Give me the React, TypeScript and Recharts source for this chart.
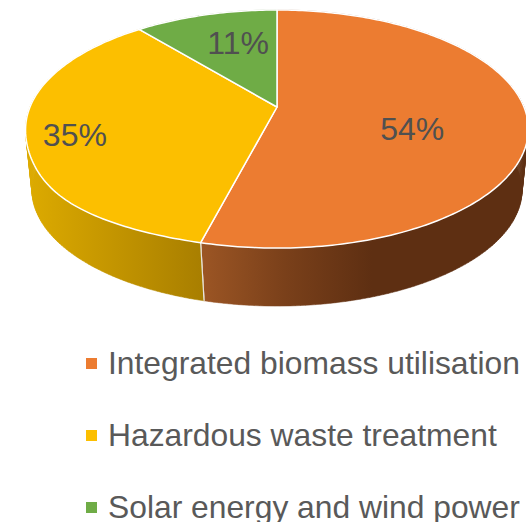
import React from 'react';
import { PieChart, Pie, Legend } from 'recharts';

const categories = ['Integrated biomass utilisation', 'Hazardous waste treatment', 'Solar energy and wind power'];
const shares = [54, 35, 11];
const colors = ['#EC7C31', '#FCBF00', '#6FAC46'];
const wallFills = ['url(#wallOrange)', 'url(#wallYellow)', '#4f7a32'];

// where each % label sits: fraction of radius, and degrees clockwise off the slice middle
const labelRadius = [0.56, 0.817, 0.645];
const labelShift = [12, -4, 4];

const chartData = categories.map((name, i) => ({ name, value: shares[i], fill: colors[i] }));

const FONT = '"Liberation Sans", Arial, sans-serif';
const CX = 277;
const CY = 107;
const RADIUS = 247;

// perspective of the tilted disc
const TILT = 115 / 247;
const K = 0.185;
const DROP = 61.5;
const BOTTOM_SCALE = 0.975;
const LEFT_BULGE = 0.055; // the reference's rim is a bit fatter at lower left

type Pt = { x: number; y: number };

const project = (angle: number, cx: number, cy: number, r: number, frac = 1, bulge = false): Pt => {
  // recharts angle: degrees counter-clockwise from 3 o'clock
  const rad = (angle * Math.PI) / 180;
  const X = Math.cos(rad) * frac;
  const Y = Math.sin(rad) * frac;
  const w = 1 + K * Y;
  const fat = bulge && X < 0 && Y < 0 ? 1 + LEFT_BULGE * 6.75 * X * X * Y * Y * Y * Y : 1;
  return { x: cx + (fat * r * X) / w, y: cy - (r * TILT * Y) / w };
};

const arcPoints = (start: number, end: number, cx: number, cy: number, r: number, bulge = false) => {
  const steps = Math.max(2, Math.ceil(Math.abs(end - start)));
  const pts: Pt[] = [];
  for (let i = 0; i <= steps; i++) pts.push(project(start + ((end - start) * i) / steps, cx, cy, r, 1, bulge));
  return pts;
};

const lower = (p: Pt, cx: number, cy: number): Pt => ({
  x: cx + BOTTOM_SCALE * (p.x - cx),
  y: cy + DROP + BOTTOM_SCALE * (p.y - cy),
});

const toPath = (pts: Pt[]) => pts.map((p, i) => `${i ? 'L' : 'M'}${p.x.toFixed(2)} ${p.y.toFixed(2)}`).join(' ');

const TopSlice = (props: any) => {
  const { cx, cy, outerRadius, startAngle, endAngle, fill } = props;
  const pts = arcPoints(startAngle, endAngle, cx, cy, outerRadius, true);
  return <path d={`M${cx} ${cy} ${toPath(pts).replace('M', 'L')} Z`} fill={fill} stroke="#fff" strokeWidth={1.5} strokeLinejoin="round" />;
};

const WallSlice = (props: any) => {
  const { cx, cy, outerRadius, startAngle, endAngle, index } = props;
  const pts = arcPoints(startAngle, endAngle, cx, cy, outerRadius);
  const rim = arcPoints(startAngle, endAngle, cx, cy, outerRadius, true);
  // one small quad per step, so the straight side edges of the drum get filled as well
  const quads = pts
    .slice(1)
    .map((p, i) => `${toPath([rim[i], rim[i + 1], lower(p, cx, cy), lower(pts[i], cx, cy)])} Z`)
    .join(' ');
  const first = rim[0];
  const last = rim[rim.length - 1];
  return (
    <g>
      <path d={quads} fill={wallFills[index]} stroke={wallFills[index]} strokeWidth={0.5} />
      <path d={toPath([first, lower(pts[0], cx, cy)])} stroke="#e8e4df" strokeWidth={1.2} fill="none" />
      <path d={toPath([last, lower(pts[pts.length - 1], cx, cy)])} stroke="#e8e4df" strokeWidth={1.2} fill="none" />
    </g>
  );
};

const renderLabel = (props: any) => {
  const { cx, cy, midAngle, outerRadius, index } = props;
  const p = project(midAngle - labelShift[index], cx, cy, outerRadius, labelRadius[index]);
  return (
    <text key={index} x={p.x} y={p.y} textAnchor="middle" dominantBaseline="central" fontFamily={FONT} fontSize={32} fill="#505050">
      {shares[index]}%
    </text>
  );
};

const renderLegend = ({ payload }: any) => (
  <div>
    {(payload || [])
      .filter((entry: any) => entry.type !== 'none')
      .map((entry: any) => (
        <div key={entry.value} style={{ position: 'relative', height: 72, lineHeight: '54px', paddingLeft: 108, whiteSpace: 'nowrap' }}>
          <span style={{ position: 'absolute', left: 86, top: 22, width: 11, height: 11, background: entry.color }} />
          {entry.value}
        </div>
      ))}
  </div>
);

export default function App() {
  return (
    <div style={{ position: 'absolute', left: 0, top: 0, width: 526, height: 522, overflow: 'hidden' }}>
      <PieChart width={526} height={522} margin={{ top: 0, right: 0, bottom: 0, left: 0 }}>
        <defs>
          <linearGradient id="wallOrange" gradientUnits="userSpaceOnUse" x1={204} y1={0} x2={527} y2={0}>
            <stop offset="0%" stopColor="#9b5524" />
            <stop offset="25%" stopColor="#7a401a" />
            <stop offset="52%" stopColor="#5e2f12" />
            <stop offset="100%" stopColor="#5e2f12" />
          </linearGradient>
          <linearGradient id="wallYellow" gradientUnits="userSpaceOnUse" x1={30} y1={0} x2={204} y2={0}>
            <stop offset="0%" stopColor="#dcaa00" />
            <stop offset="100%" stopColor="#a87e00" />
          </linearGradient>
        </defs>
        <Pie
          data={chartData}
          dataKey="value"
          nameKey="name"
          cx={CX}
          cy={CY}
          outerRadius={RADIUS}
          startAngle={90}
          endAngle={-270}
          stroke="none"
          legendType="none"
          shape={WallSlice}
          isAnimationActive={false}
        />
        <Pie
          data={chartData}
          dataKey="value"
          nameKey="name"
          cx={CX}
          cy={CY}
          outerRadius={RADIUS}
          startAngle={90}
          endAngle={-270}
          shape={TopSlice}
          label={renderLabel}
          labelLine={false}
          legendType="square"
          isAnimationActive={false}
        />
        <Legend
          content={renderLegend}
          itemSorter={null}
          wrapperStyle={{ position: 'absolute', left: 0, top: 336, width: 526, fontFamily: FONT, fontSize: 31.8, color: '#595959' }}
        />
      </PieChart>
    </div>
  );
}
